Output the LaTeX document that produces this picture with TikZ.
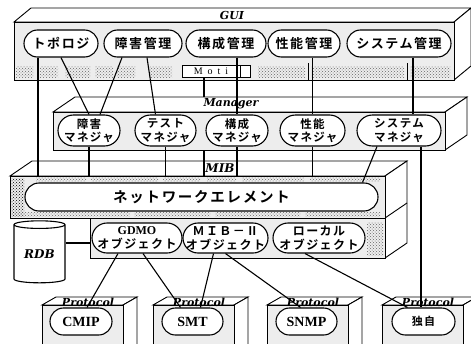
\documentclass[tikz,border=0pt]{standalone}
\usepackage{fontspec}
\setmainfont{Liberation Serif}
\newfontfamily\jpfont{Noto Sans CJK JP}[BoldFont={Noto Sans CJK JP Bold}, LetterSpace=12]
\newfontfamily\tagfont{DejaVu Serif}
\usetikzlibrary{patterns,shapes.geometric}

% front, top and right faces of a block
\newcommand{\cuboid}[6]{%
  \draw[box] (#1,#2) -- (#1+#5,#2+#6) -- (#3+#5,#2+#6) -- (#3,#2) -- cycle;
  \draw[box] (#3,#2) -- (#3+#5,#2+#6) -- (#3+#5,#4+#6) -- (#3,#4) -- cycle;
  \draw[face] (#1,#2) rectangle (#3,#4);
}

\tikzset{
  box/.style={draw, line width=0.9pt, fill=white},
  face/.style={draw, line width=0.9pt, fill=black!7},
  noise/.style={pattern=crosshatch dots, pattern color=black!60},
  link/.style={line width=1.1pt},
  tag/.style={inner sep=0pt, font=\tagfont\bfseries\itshape\fontsize{11}{11}\selectfont},
  pill/.style={draw, line width=1.1pt, fill=white, inner sep=0pt, align=center},
  gui pill/.style={pill, rounded corners=13.5pt, minimum height=27pt,
    font=\jpfont\bfseries\fontsize{13}{13}\selectfont},
  mgr pill/.style={pill, rounded corners=15.5pt, minimum height=31pt,
    font=\jpfont\bfseries\fontsize{11.5}{13.5}\selectfont},
  ne pill/.style={pill, rounded corners=14pt, minimum height=28pt,
    font=\jpfont\bfseries\fontsize{14.5}{14.5}\selectfont},
  obj pill/.style={pill, rounded corners=15pt, minimum height=30pt,
    font=\jpfont\bfseries\fontsize{12}{14}\selectfont},
  proto pill/.style={pill, rounded corners=13.5pt, minimum height=27pt, minimum width=62pt,
    font=\bfseries\fontsize{14}{14}\selectfont},
}

\begin{document}
\begin{tikzpicture}[x=1pt, y=-1pt]
  \useasboundingbox (0,0) rectangle (471,343);

  % GUI
  \cuboid{14}{22}{454}{80}{17}{-14}
  \node[tag] (gui) at (232,15) {GUI};
  \foreach \a/\b in {16/33, 40/58, 65/90, 95/113, 117/135, 150/172, 258/305, 311/404, 410/450}
    \path[noise] (\a,66) rectangle (\b,77);
  \draw (308,63) -- (308,80);
  \draw (407,63) -- (407,80);
  \node[draw, fill=white, minimum width=58pt, minimum height=12pt, inner sep=0pt,
    font=\fontsize{10}{10}\selectfont] (moti) at (211,71) {M\ \ o\ \ t\ \ i};
  \node[draw, fill=white, minimum width=10pt, minimum height=12pt, inner sep=0pt] (motiend) at (245,71) {};

  \node[gui pill, minimum width=74pt] (topo) at (61,43.5) {トポロジ};
  \node[gui pill, minimum width=78pt] (fault) at (143,43.5) {障害管理};
  \node[gui pill, minimum width=80pt] (config) at (226,43.5) {構成管理};
  \node[gui pill, minimum width=72pt] (perf) at (304,43.5) {性能管理};
  \node[gui pill, minimum width=104pt] (sysm) at (399,43.5) {システム管理};

  % MIB
  \draw[box] (10,176) -- (32,161) -- (407,161) -- (385,176) -- cycle;
  \draw[box] (385,176) -- (407,161) -- (407,243) -- (385,258) -- cycle;
  \draw[line width=0.9pt] (385,218) -- (407,203);
  \draw[face] (10,176) rectangle (385,218);
  \draw[face] (90,218) rectangle (385,258);
  \node[tag, font=\tagfont\bfseries\itshape\fontsize{12}{12}\selectfont] (mib) at (220,168) {MIB};
  \path[noise, pattern color=black] (11,178) rectangle (24,216);
  \foreach \a/\b in {36/86, 91/158, 163/200, 207/236, 242/304, 310/380}
    \path[noise] (\a,177.5) rectangle (\b,181.5);
  \foreach \a/\b in {14/130, 134/210, 215/300, 305/380}
    \path[noise] (\a,212) rectangle (\b,216);
  \path[noise] (367,222) rectangle (383,255);

  \node[ne pill, minimum width=353pt] (ne) at (201.5,197) {ネットワークエレメント};
  \node[obj pill, minimum width=90pt] (gdmo) at (137,238)
    {{\normalfont\bfseries\fontsize{12}{14}\selectfont GDMO}\\オブジェクト};
  \node[obj pill, minimum width=85pt] (mibii) at (225.5,238) {ＭＩＢ－Ⅱ\\オブジェクト};
  \node[obj pill, minimum width=92pt] (local) at (319,238) {ローカル\\オブジェクト};

  % RDB
  \node[cylinder, shape border rotate=90, draw, line width=1.1pt, fill=white,
    minimum width=51pt, minimum height=62pt, aspect=0.25, inner sep=0pt,
    font=\tagfont\bfseries\itshape\fontsize{12}{12}\selectfont] (rdb) at (39.5,254) {RDB};
  \coordinate (objleft) at (90,243);
  \draw[line width=2.6pt] (rdb.east |- objleft) -- (objleft);

  % Protocol
  \foreach \x in {42,153,267,382} {
    \cuboid{\x}{305}{\x+81}{360}{14}{-8}
  }
  \foreach \x/\n in {42/pcmip, 153/psmt, 267/psnmp, 382/pdok}
    \node[tag] (\n) at (\x+46,302) {Protocol};
  \node[proto pill] (cmip) at (81,321.5) {CMIP};
  \node[proto pill, minimum width=61pt] (smt) at (192.5,321.5) {SMT};
  \node[proto pill, minimum width=61pt] (snmp) at (306.5,321.5) {SNMP};
  \node[proto pill, minimum width=63pt, font=\jpfont\bfseries\fontsize{11}{11}\selectfont] (dok) at (423.5,321.5) {独自};

  % line behind the Manager block
  \coordinate (mibtop) at (0,176);
  \coordinate (mibA) at (38,176);
  \coordinate (mibM) at (204,176);
  \draw[link] (moti.south -| mibM) -- (mibM);

  % Manager
  \cuboid{53}{112}{445}{150}{22}{-15}
  \node[tag] (mgr) at (231,104) {Manager};
  \node[mgr pill, minimum width=62pt] (mfault) at (89,130.5) {障害\\マネジャ};
  \node[mgr pill, minimum width=61pt] (mtest) at (165.5,130.5) {テスト\\マネジャ};
  \node[mgr pill, minimum width=62pt] (mconf) at (237,130.5) {構成\\マネジャ};
  \node[mgr pill, minimum width=65pt] (mperf) at (312.5,130.5) {性能\\マネジャ};
  \node[mgr pill, minimum width=84pt] (msys) at (399,130.5) {システム\\マネジャ};

  % connections
  \draw[link] (topo.south -| mibA) -- (mibA);
  \draw[link] (topo.south) -- (mfault.north);
  \draw[link] ([xshift=-21pt]fault.south) -- ([xshift=11pt]mfault.north);
  \draw[link] ([xshift=4pt]fault.south) -- ([xshift=-10pt]mtest.north);
  \draw[link] (mconf.north |- config.south) -- (mconf.north);
  \draw[link] (mperf.north |- perf.south) -- (mperf.north);
  \coordinate (s1) at ([xshift=14pt]msys.north);
  \draw[link] (s1 |- sysm.south) -- (s1);

  \draw[link] (mfault.south) -- (mfault.south |- mibtop);
  \draw[link] (mtest.south) -- (mtest.south |- mibtop);
  \draw[link] (mconf.south) -- (mconf.south |- mibtop);
  \draw[link] (mperf.south) -- (mperf.south |- mibtop);
  \draw[link] ([xshift=-22pt]msys.south) -- ([xshift=161pt]ne.north);
  \coordinate (s2) at ([xshift=22pt]msys.south);
  \draw[link] (s2) -- (s2 |- dok.north);

  \draw[link] ([xshift=-19pt]gdmo.south) -- ([xshift=6pt]cmip.north);
  \draw[link] ([xshift=6pt]gdmo.south) -- ([xshift=-12pt]smt.north);
  \draw[link] ([xshift=-12pt]mibii.south) -- ([xshift=8pt]smt.north);
  \draw[link] (mibii.south) -- ([xshift=-6pt]snmp.north);
  \draw[link] ([xshift=-14pt]local.south) -- ([xshift=-16pt]dok.north);
\end{tikzpicture}
\end{document}
